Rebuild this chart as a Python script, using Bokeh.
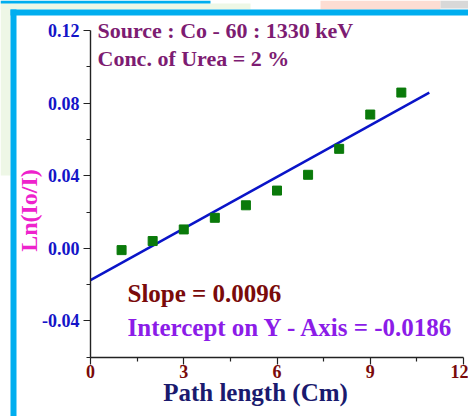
from bokeh.plotting import figure
from bokeh.models import (Range1d, FixedTicker, NumeralTickFormatter, Label,
                          BoxAnnotation, ColumnDataSource)
from bokeh.embed import file_html
from bokeh.resources import INLINE
import math

# ---- data ----
path_length = [1, 2, 3, 4, 5, 6, 7, 8, 9, 10]
ln_io_i = [-0.001, 0.004, 0.0104, 0.0168, 0.0237, 0.0318, 0.0405, 0.0548, 0.0737, 0.0858]
fit_x = [0, 10.9]
fit_y = [-0.0175, 0.0858]
x_ticks = [0, 3, 6, 9, 12]
x_minor = [1.5, 4.5, 7.5, 10.5]
y_ticks = [-0.04, 0.0, 0.04, 0.08, 0.12]
y_minor = [-0.06, -0.02, 0.02, 0.06, 0.10]

FONT = "Liberation Serif"
W, H = 468, 416
# pixel layout of the axes box inside the canvas
X0PX, X1PX = 90.0, 463.0       # x = 0 and x = 12
Y0PX, Y1PX = 30.0, 356.7       # y = 0.12 and y = -0.06
sx = (X1PX - X0PX) / 12.0
sy = (Y1PX - Y0PX) / 0.18

def dx(px):
    return (px - X0PX) / sx

def dy(py):
    return 0.12 - (py - Y0PX) / sy

p = figure(width=W, height=H, output_backend="svg", toolbar_location=None,
           x_range=Range1d(dx(0), dx(W)), y_range=Range1d(dy(H), dy(0)),
           min_border=0, min_border_left=0, min_border_right=0,
           min_border_top=0, min_border_bottom=0)
p.outline_line_color = None
p.grid.visible = False
p.background_fill_color = "white"
p.border_fill_color = "white"

# decorative page background pieces
def box(l, r, t, b, color):
    p.add_layout(BoxAnnotation(left=dx(l), right=dx(r), top=dy(t), bottom=dy(b),
                               fill_color=color, fill_alpha=1.0, line_alpha=0,
                               level="underlay"))

box(0, 10, 0, 175, "#EEF7E6")
box(0, 250, 3, 9, "#EEF7E6")
box(0, 210, 0, 3, "#00AEEF")
box(320, 440, 0, 9, "#FDDDD3")
box(440, 468, 0, 8, "#D8D8D8")
box(10, 16, 9, 416, "#00AEEF")
box(10, 468, 9, 15, "#00AEEF")

# axes placed at fixed data locations
p.xaxis.fixed_location = -0.06
p.yaxis.fixed_location = 0
p.xaxis.bounds = (0, 12)
p.yaxis.bounds = (-0.06, 0.12)
for ax in (p.xaxis[0], p.yaxis[0]):
    ax.axis_line_color = "#222222"
    ax.axis_line_width = 1.4
    ax.major_tick_line_color = "#222222"
    ax.minor_tick_line_color = "#222222"
    ax.major_tick_line_width = 1.2
    ax.minor_tick_line_width = 1.2
    ax.major_tick_out = 7
    ax.major_tick_in = 0
    ax.minor_tick_out = 4
    ax.minor_tick_in = 0
    ax.major_label_text_font = FONT
    ax.major_label_text_font_style = "bold"
    ax.major_label_text_font_size = "18px"

p.xaxis.ticker = FixedTicker(ticks=x_ticks, minor_ticks=x_minor)
p.yaxis.ticker = FixedTicker(ticks=y_ticks, minor_ticks=y_minor)
p.yaxis.formatter = NumeralTickFormatter(format="0.00")
p.xaxis.major_label_text_color = "#7A0A0A"
p.yaxis.major_label_text_color = "#1414C8"
p.xaxis.major_label_standoff = 1
p.yaxis.major_label_standoff = 4

# fit line and data
p.line(fit_x, fit_y, line_color="#0A14C8", line_width=2.5)
src = ColumnDataSource(dict(x=path_length, y=ln_io_i))
p.scatter("x", "y", source=src, marker="square", size=9,
          fill_color="#0A7A0A", line_color="#0A7A0A")

def lab(x, y, text, color, size, **kw):
    p.add_layout(Label(x=x, y=y, text=text, text_color=color,
                       text_font=FONT, text_font_style="bold",
                       text_font_size=size, **kw))

lab(dx(97), dy(42), "Source : Co - 60 : 1330 keV", "#7D1C72", "22px")
lab(dx(97), dy(70), "Conc. of Urea = 2 %", "#7D1C72", "22px")
lab(dx(127), dy(306), "Slope = 0.0096", "#7A0A0A", "25px")
lab(dx(127), dy(340), "Intercept on Y - Axis = -0.0186", "#8C1CE8", "25px")

# axis titles
lab(dx(255), dy(405), "Path length (Cm)", "#1A1A6E", "25px", text_align="center")
lab(dx(28.5), dy(210), "Ln(Io/I)", "#EE22CC", "24px", text_align="center",
    text_baseline="middle", angle=math.pi / 2)

open("out.html", "w").write(file_html(p, INLINE))
